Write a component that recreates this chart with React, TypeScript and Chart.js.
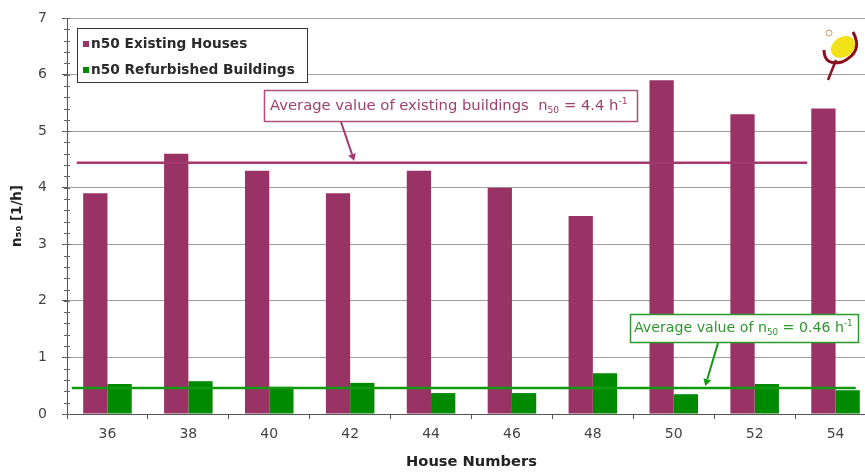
import React, { useEffect, useRef } from 'react';
import { Chart, registerables } from 'chart.js';

Chart.register(...registerables);

const houseNumbers = ['36', '38', '40', '42', '44', '46', '48', '50', '52', '54'];
const existingHouses = [3.9, 4.6, 4.3, 3.9, 4.3, 4.0, 3.5, 5.9, 5.3, 5.4];
const refurbishedBuildings = [0.53, 0.58, 0.48, 0.55, 0.37, 0.37, 0.72, 0.35, 0.53, 0.42];
const seriesLabels = ['n50 Existing Houses', 'n50 Refurbished Buildings'];
const averageExisting = 4.44;
const averageRefurbished = 0.46;
const yMin = 0;
const yMax = 7;

const PURPLE = '#993366';
const GREEN = '#008a00';
const FONT = '"DejaVu Sans", Verdana, sans-serif';

type Part = { t: string; k?: 'sub' | 'sup' };

function measureCtx() {
  return document.createElement('canvas').getContext('2d') as CanvasRenderingContext2D;
}

function fitSize(text: string, weight: string, target: number) {
  const c = measureCtx();
  c.font = `${weight} 100px ${FONT}`;
  return (100 * target) / c.measureText(text).width;
}

function richWidth(ctx: CanvasRenderingContext2D, parts: Part[], size: number) {
  let w = 0;
  for (const p of parts) {
    const s = p.k ? size * 0.62 : size;
    ctx.font = `${s}px ${FONT}`;
    w += ctx.measureText(p.t).width;
  }
  return w;
}

function drawRich(ctx: CanvasRenderingContext2D, parts: Part[], x: number, y: number, target: number, color: string) {
  ctx.save();
  const size = (10 * target) / richWidth(ctx, parts, 10);
  ctx.fillStyle = color;
  ctx.textBaseline = 'alphabetic';
  ctx.textAlign = 'left';
  let cx = x;
  for (const p of parts) {
    const s = p.k ? size * 0.62 : size;
    ctx.font = `${s}px ${FONT}`;
    const dy = p.k === 'sub' ? 3 : p.k === 'sup' ? -6 : 0;
    ctx.fillText(p.t, cx, y + dy);
    cx += ctx.measureText(p.t).width;
  }
  ctx.restore();
}

function arrow(ctx: CanvasRenderingContext2D, x1: number, y1: number, x2: number, y2: number, color: string) {
  ctx.save();
  ctx.strokeStyle = color;
  ctx.fillStyle = color;
  ctx.lineWidth = 2;
  const ang = Math.atan2(y2 - y1, x2 - x1);
  const hx = x2 - Math.cos(ang) * 7;
  const hy = y2 - Math.sin(ang) * 7;
  ctx.beginPath();
  ctx.moveTo(x1, y1);
  ctx.lineTo(hx, hy);
  ctx.stroke();
  ctx.beginPath();
  ctx.moveTo(x2, y2);
  ctx.lineTo(hx + Math.cos(ang + Math.PI / 2) * 4, hy + Math.sin(ang + Math.PI / 2) * 4);
  ctx.lineTo(hx + Math.cos(ang - Math.PI / 2) * 4, hy + Math.sin(ang - Math.PI / 2) * 4);
  ctx.closePath();
  ctx.fill();
  ctx.restore();
}

const overlayPlugin = {
  id: 'overlay',
  beforeDatasetsDraw(chart: any) {
    const ctx: CanvasRenderingContext2D = chart.ctx;
    const y = chart.scales.y;
    const area = chart.chartArea;
    ctx.save();
    ctx.strokeStyle = '#666';
    ctx.lineWidth = 1;
    for (let v = yMin; v <= yMax + 1e-6; v += 0.2) {
      const py = Math.round(y.getPixelForValue(v)) + 0.5;
      ctx.beginPath();
      ctx.moveTo(area.left - 3, py);
      ctx.lineTo(area.left + 3, py);
      ctx.stroke();
    }
    ctx.restore();
  },
  afterDatasetsDraw(chart: any) {
    const ctx: CanvasRenderingContext2D = chart.ctx;
    const x = chart.scales.x;
    const y = chart.scales.y;

    // average lines
    ctx.save();
    ctx.lineWidth = 2.5;
    ctx.strokeStyle = '#a3396f';
    const pyE = y.getPixelForValue(averageExisting);
    ctx.beginPath();
    ctx.moveTo(x.getPixelForValue(-0.38), pyE);
    ctx.lineTo(x.getPixelForValue(8.65), pyE);
    ctx.stroke();
    ctx.strokeStyle = '#119a11';
    const pyR = y.getPixelForValue(averageRefurbished);
    ctx.beginPath();
    ctx.moveTo(x.getPixelForValue(-0.44), pyR);
    ctx.lineTo(x.getPixelForValue(9.25), pyR);
    ctx.stroke();
    ctx.restore();

    // legend box
    ctx.save();
    ctx.fillStyle = '#fff';
    ctx.fillRect(77, 28, 230, 54);
    ctx.strokeStyle = '#333';
    ctx.lineWidth = 1;
    ctx.strokeRect(77.5, 28.5, 230, 54);
    const legendColors = [PURPLE, GREEN];
    const rows = [48, 74];
    const lsize = fitSize(seriesLabels[1], 'bold', 204);
    seriesLabels.forEach((lab, i) => {
      ctx.fillStyle = legendColors[i];
      ctx.fillRect(83, rows[i] - 7, 6, 6);
      ctx.fillStyle = '#2a2a2a';
      ctx.font = `bold ${lsize}px ${FONT}`;
      ctx.textBaseline = 'alphabetic';
      ctx.textAlign = 'left';
      ctx.fillText(lab, 91, rows[i]);
    });
    ctx.restore();

    // annotation: existing
    ctx.save();
    ctx.fillStyle = '#fff';
    ctx.fillRect(264, 90, 373, 31);
    ctx.strokeStyle = '#b0507e';
    ctx.lineWidth = 1.5;
    ctx.strokeRect(264.5, 90.5, 373, 31);
    ctx.restore();
    drawRich(ctx, [
      { t: 'Average value of existing buildings  n' },
      { t: '50', k: 'sub' },
      { t: ' = 4.4 h' },
      { t: '-1', k: 'sup' },
    ], 270, 110, 358, '#a0406e');
    arrow(ctx, 341, 122, x.getPixelForValue(3.05), pyE - 2, '#a3396f');

    // annotation: refurbished
    ctx.save();
    ctx.fillStyle = '#fff';
    ctx.fillRect(630, 314, 228, 28);
    ctx.strokeStyle = '#2a9a2a';
    ctx.lineWidth = 1.5;
    ctx.strokeRect(630.5, 314.5, 228, 28);
    ctx.restore();
    drawRich(ctx, [
      { t: 'Average value of n' },
      { t: '50', k: 'sub' },
      { t: ' = 0.46 h' },
      { t: '-1', k: 'sup' },
    ], 634, 332, 219, '#2f962f');
    arrow(ctx, 718, 343, x.getPixelForValue(7.39), pyR - 2, '#119a11');

    // logo
    ctx.save();
    ctx.fillStyle = '#f2e21a';
    ctx.beginPath();
    ctx.ellipse(843, 47, 13, 10, -0.6, 0, Math.PI * 2);
    ctx.fill();
    ctx.strokeStyle = '#8a1020';
    ctx.lineWidth = 3;
    ctx.beginPath();
    ctx.moveTo(824, 50);
    ctx.quadraticCurveTo(824, 66, 842, 62);
    ctx.quadraticCurveTo(864, 52, 853, 32);
    ctx.stroke();
    ctx.lineWidth = 2.5;
    ctx.beginPath();
    ctx.moveTo(836, 60);
    ctx.lineTo(828, 80);
    ctx.stroke();
    ctx.strokeStyle = '#c9a070';
    ctx.lineWidth = 1;
    ctx.beginPath();
    ctx.arc(829, 33, 3, 0, Math.PI * 2);
    ctx.stroke();
    ctx.restore();
  },
};

export default function App() {
  const ref = useRef<HTMLCanvasElement>(null);
  useEffect(() => {
    if (!ref.current) return;
    const xTitle = 'House Numbers';
    const yTitle = 'n₅₀ [1/h]';
    const xTitleSize = fitSize(xTitle, 'bold', 131);
    const yTitleSize = fitSize(yTitle, 'bold', 62);
    const chart = new Chart(ref.current, {
      type: 'bar',
      data: {
        labels: houseNumbers,
        datasets: [
          { label: seriesLabels[0], data: existingHouses, backgroundColor: PURPLE, categoryPercentage: 0.6, barPercentage: 1.0 },
          { label: seriesLabels[1], data: refurbishedBuildings, backgroundColor: GREEN, categoryPercentage: 0.6, barPercentage: 1.0 },
        ],
      },
      plugins: [overlayPlugin],
      options: {
        animation: false,
        responsive: false,
        maintainAspectRatio: false,
        devicePixelRatio: 1,
        layout: { padding: { top: 18, left: 0, right: 0, bottom: 0 } },
        plugins: { legend: { display: false }, tooltip: { enabled: false } },
        scales: {
          x: {
            offset: true,
            grid: { display: true, offset: true, drawOnChartArea: false, drawTicks: true, tickLength: 5, color: '#555' },
            border: { color: '#555' },
            ticks: { color: '#444', font: { family: FONT, size: 14 }, padding: 7, maxRotation: 0 },
            title: { display: true, text: xTitle, color: '#222', font: { family: FONT, size: xTitleSize, weight: 'bold' }, padding: { top: 0, bottom: 1 } },
            afterFit: (s: any) => { s.height = 58; s.paddingLeft = 0; s.paddingRight = 0; },
          },
          y: {
            min: yMin,
            max: yMax,
            ticks: { stepSize: 1, color: '#444', font: { family: FONT, size: 14 }, padding: 15 },
            grid: { color: '#a0a0a0', tickColor: '#555', tickLength: 5 },
            border: { color: '#555' },
            title: { display: true, text: yTitle, color: '#222', font: { family: FONT, size: yTitleSize, weight: 'bold' }, padding: { top: 9, bottom: 0 } },
            afterFit: (s: any) => { s.width = 67; s.paddingTop = 0; s.paddingBottom = 0; },
          },
        },
      } as any,
    });
    return () => chart.destroy();
  }, []);
  return (
    <div style={{ position: 'absolute', left: 0, top: 0, width: 865, height: 472, overflow: 'hidden', background: '#fff' }}>
      <canvas ref={ref} width={876} height={472} style={{ display: 'block' }} />
    </div>
  );
}
